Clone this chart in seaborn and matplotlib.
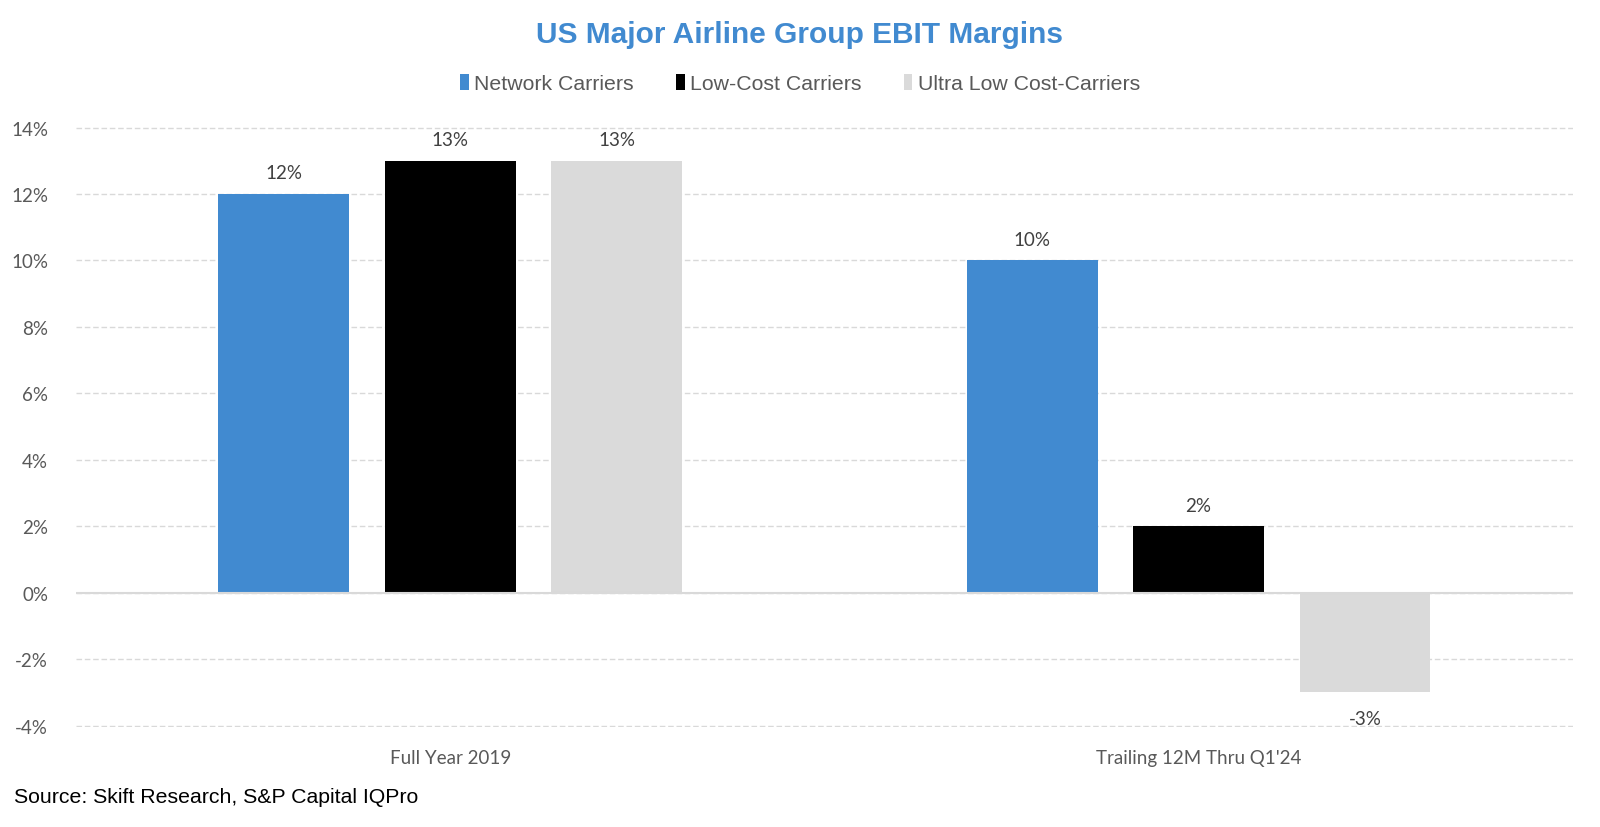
import matplotlib
matplotlib.use("Agg")
import matplotlib.pyplot as plt
import seaborn as sns
import pandas as pd
from matplotlib.ticker import FuncFormatter, FixedLocator

categories = ["Full Year 2019", "Trailing 12M Thru Q1'24"]
series = ["Network Carriers", "Low-Cost Carriers", "Ultra Low Cost-Carriers"]
network = [12, 10]
low_cost = [13, 2]
ultra_low = [13, -3]
y_ticks = [-4, -2, 0, 2, 4, 6, 8, 10, 12, 14]
colors = ["#418AD0", "#000000", "#DADADA"]

rows = []
for s, vals in zip(series, [network, low_cost, ultra_low]):
    for c, v in zip(categories, vals):
        rows.append({"category": c, "series": s, "value": v})
df = pd.DataFrame(rows)

sns.set_theme(style="white")
plt.rcParams["font.family"] = ["Lato", "DejaVu Sans"]

fig = plt.figure(figsize=(16, 8.28), dpi=100)
ax = fig.add_axes([0.0475, 0.1213, 0.9355, 0.7247])

sns.barplot(data=df, x="category", y="value", hue="series", order=categories,
            hue_order=series, palette=colors, width=0.667, gap=0.215,
            saturation=1, ax=ax, legend=True, linewidth=0)

ax.set_ylim(-4.03, 14.03)
ax.set_xlim(-0.5, 1.5)
ax.yaxis.set_major_locator(FixedLocator(y_ticks))
ax.yaxis.set_major_formatter(FuncFormatter(lambda v, p: f"{v:.0f}%"))
ax.grid(axis="y", color="#D9D9D9", linestyle=(0, (4, 2)), linewidth=1)
ax.set_axisbelow(True)
ax.axhline(0, color="#D9D9D9", linewidth=1.5, zorder=1)
for sp in ax.spines.values():
    sp.set_visible(False)
ax.set_xlabel("")
ax.set_ylabel("")
ax.tick_params(axis="both", length=0, labelsize=13.5, colors="#595959")
ax.tick_params(axis="y", pad=20)
ax.tick_params(axis="x", pad=16)

for cont in ax.containers:
    for rect, v in zip(cont, cont.datavalues):
        ax.annotate(f"{v:.0f}%",
                    xy=(rect.get_x() + rect.get_width() / 2, v),
                    xytext=(0, 9 if v >= 0 else -13), textcoords="offset points",
                    ha="center", va="bottom" if v >= 0 else "top",
                    fontsize=13.5, color="#404040")

handles, labels = ax.get_legend_handles_labels()
ax.legend(handles, labels, ncol=3, frameon=False, loc="center",
          bbox_to_anchor=(0.5, 0.898), bbox_transform=fig.transFigure,
          handlelength=0.4, handleheight=0.8, handletextpad=0.25,
          columnspacing=2.0, prop={"family": "Liberation Sans", "size": 15.3},
          labelcolor="#595959")

fig.text(0.5, 0.958, "US Major Airline Group EBIT Margins", ha="center", va="center",
         fontsize=21.5, fontweight="bold", color="#418AD0", family="Liberation Sans")
fig.text(0.009, 0.037, "Source: Skift Research, S&P Capital IQPro", ha="left", va="center",
         fontsize=15.3, color="#000000", family="Liberation Sans")

fig.savefig("out.png", dpi=100)
